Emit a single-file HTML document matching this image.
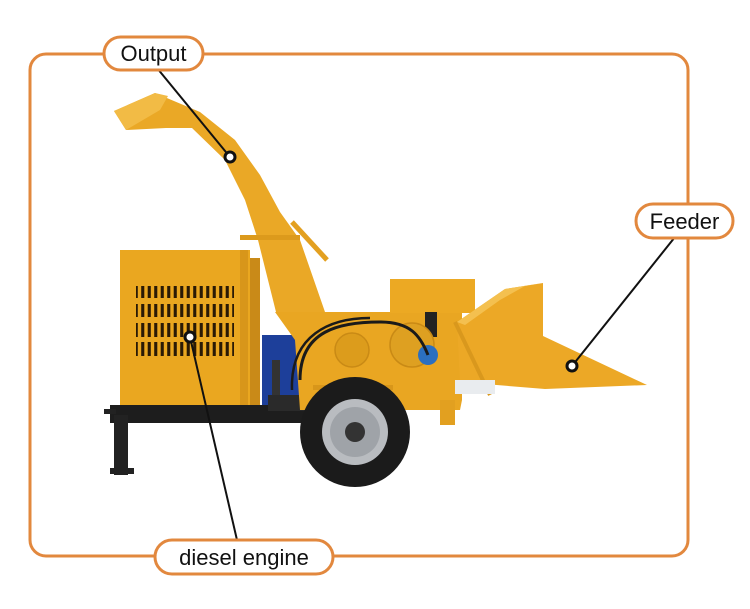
<!DOCTYPE html>
<html><head><meta charset="utf-8"><style>
html,body{margin:0;padding:0;background:#fff;width:750px;height:609px;overflow:hidden}
svg{display:block}
text{font-family:"Liberation Sans",sans-serif;fill:#111}
</style></head><body>
<svg width="750" height="609" viewBox="0 0 750 609" xmlns="http://www.w3.org/2000/svg">
<rect x="30" y="54" width="658" height="502" rx="16" fill="none" stroke="#e2883e" stroke-width="3"/>

<!-- chute -->
<polygon points="114,111 155,93 200,112 235,140 260,175 280,212 300,240 325,312 276,312 258,240 245,200 225,160 192,128 166,128 126,130" fill="#eaa826"/>
<polygon points="114,111 155,93 168,96 160,110 126,130" fill="#f2bb45"/>
<line x1="292" y1="222" x2="327" y2="260" stroke="#e3a020" stroke-width="5"/>
<rect x="240" y="235" width="60" height="5" fill="#dc9a1c"/>

<!-- engine box -->
<rect x="248" y="258" width="12" height="150" fill="#c98a18"/>
<rect x="120" y="250" width="130" height="158" fill="#eaa720"/>
<rect x="240" y="250" width="8" height="158" fill="#d8961a"/>
<g fill="#2a1a05">
<rect x="136" y="286" width="98" height="12"/>
<rect x="136" y="304" width="98" height="13"/>
<rect x="136" y="323" width="98" height="14"/>
<rect x="136" y="342" width="98" height="14"/>
</g>
<g stroke="#eaa720" stroke-width="3.4">
<path d="M139.5 280V360M146 280V360M152.5 280V360M159 280V360M165.5 280V360M172 280V360M178.5 280V360M185 280V360M191.5 280V360M198 280V360M204.5 280V360M211 280V360M217.5 280V360M224 280V360M230.5 280V360M236 280V360"/>
</g>
<rect x="134" y="279" width="102" height="7" fill="#eaa720"/>
<rect x="134" y="298" width="102" height="6" fill="#eaa720"/>
<rect x="134" y="317" width="102" height="6" fill="#eaa720"/>
<rect x="134" y="337" width="102" height="5" fill="#eaa720"/>

<!-- frame -->
<rect x="110" y="405" width="205" height="18" fill="#1d1d1d"/>
<rect x="114" y="415" width="14" height="60" fill="#222"/>
<rect x="110" y="468" width="24" height="6" fill="#222"/>
<rect x="104" y="409" width="12" height="5" fill="#222"/>

<!-- blue pump area -->
<rect x="262" y="335" width="40" height="70" fill="#1d3f9a"/>
<rect x="272" y="360" width="8" height="35" fill="#333"/>
<rect x="268" y="395" width="40" height="16" fill="#2a2a2a"/>

<!-- main body -->
<polygon points="275,312 462,312 462,400 460,410 300,410 295,340" fill="#e9a622"/>
<rect x="390" y="279" width="85" height="34" fill="#eca923"/>
<rect x="425" y="312" width="12" height="25" fill="#222"/>
<circle cx="352" cy="350" r="17" fill="#dc9c1c" stroke="#c98a15" stroke-width="1.5"/>
<circle cx="412" cy="345" r="22" fill="#dea021" stroke="#c98a15" stroke-width="1.5"/>
<circle cx="428" cy="355" r="10" fill="#2b6fc0"/>
<path d="M300 380 C300 330 340 322 380 322 C410 322 420 335 428 355" fill="none" stroke="#1a1a1a" stroke-width="3"/>
<path d="M292 390 C290 335 330 318 370 318" fill="none" stroke="#1a1a1a" stroke-width="2.5"/>
<rect x="440" y="400" width="15" height="25" fill="#e2a020"/>
<rect x="313" y="385" width="80" height="5" fill="#d8961a"/>

<!-- feeder -->
<polygon points="457,322 505,289 543,283 543,336 647,385 545,389 460,382" fill="#eca826"/>
<polygon points="457,322 505,289 543,283 525,286 500,300 465,325" fill="#f4c04f"/>
<line x1="455" y1="322" x2="490" y2="395" stroke="#d9981d" stroke-width="4"/>
<rect x="455" y="380" width="40" height="14" fill="#e9ecef"/>

<!-- wheel -->
<circle cx="355" cy="432" r="55" fill="#1b1b1b"/>
<circle cx="355" cy="432" r="33" fill="#b9bcc0"/>
<circle cx="355" cy="432" r="25" fill="#9fa3a8"/>
<circle cx="355" cy="432" r="10" fill="#333"/>

<!-- leaders -->
<line x1="157" y1="68" x2="230" y2="157" stroke="#111" stroke-width="2"/>
<circle cx="230" cy="157" r="5" fill="#fff" stroke="#111" stroke-width="3"/>
<line x1="675" y1="237" x2="572" y2="366" stroke="#111" stroke-width="2"/>
<circle cx="572" cy="366" r="5" fill="#fff" stroke="#111" stroke-width="3"/>
<line x1="190" y1="337" x2="237" y2="540" stroke="#111" stroke-width="2"/>
<circle cx="190" cy="337" r="5" fill="#fff" stroke="#111" stroke-width="3"/>

<!-- labels -->
<rect x="104" y="37" width="99" height="33" rx="16.5" fill="#fff" stroke="#e2883e" stroke-width="3"/>
<text x="153.5" y="61" font-size="22" text-anchor="middle">Output</text>
<rect x="636" y="204" width="97" height="34" rx="17" fill="#fff" stroke="#e2883e" stroke-width="3"/>
<text x="684.5" y="229" font-size="22" text-anchor="middle">Feeder</text>
<rect x="155" y="540" width="178" height="34" rx="17" fill="#fff" stroke="#e2883e" stroke-width="3"/>
<text x="244" y="565" font-size="22" text-anchor="middle">diesel engine</text>
</svg>
</body></html>
